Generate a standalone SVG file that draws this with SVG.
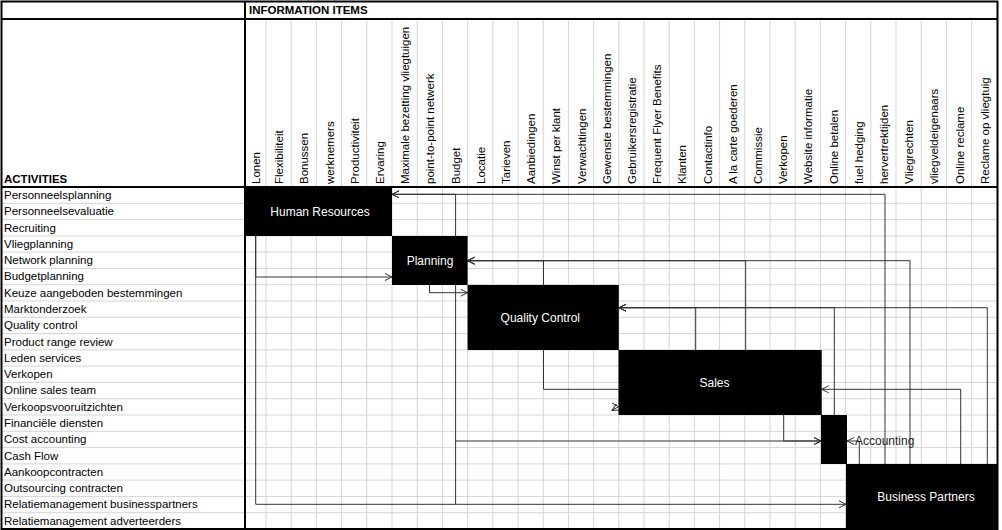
<svg xmlns="http://www.w3.org/2000/svg" width="1002" height="530" viewBox="0 0 1002 530">
<style>
.grid{stroke:#d4d4d4;stroke-width:1;fill:none}
.thick{stroke:#000;stroke-width:2;fill:none}
.lbl{font-family:"Liberation Sans",Arial,sans-serif;font-size:11.5px;fill:#000}
.hdr{font-family:"Liberation Sans",Arial,sans-serif;font-size:11.5px;font-weight:bold;fill:#000}
.node rect{fill:#000}
.node text{font-family:"Liberation Sans",Arial,sans-serif;font-size:12px;fill:#fff;text-anchor:middle}
.conn path{stroke:#333;stroke-width:1;fill:none;marker-end:url(#arr)}
.conn path.na{marker-end:none}
.chev{stroke:#333;stroke-width:1;fill:none}
</style>
<defs>
<marker id="arr" markerUnits="userSpaceOnUse" markerWidth="10" markerHeight="10" refX="8" refY="4" orient="auto">
<path d="M1,0.5 L8,4 L1,7.5" fill="none" stroke="#333" stroke-width="1"/>
</marker>
</defs>
<rect x="0" y="0" width="1002" height="530" fill="#fff"/>
<g id="grid">
<path class="grid" d="M266,19V529M291.2,19V529M316.4,19V529M341.6,19V529M366.8,19V529M392,19V529M417.2,19V529M442.4,19V529M467.6,19V529M492.8,19V529M518,19V529M543.2,19V529M568.4,19V529M593.6,19V529M618.8,19V529M644,19V529M669.2,19V529M694.4,19V529M719.6,19V529M744.8,19V529M770,19V529M795.2,19V529M820.4,19V529M845.6,19V529M870.8,19V529M896,19V529M921.2,19V529M946.4,19V529M971.6,19V529"/>
<path class="grid" d="M2,203.3H997M2,219.6H997M2,235.9H997M2,252.1H997M2,268.4H997M2,284.7H997M2,301H997M2,317.3H997M2,333.6H997M2,349.9H997M2,366.1H997M2,382.4H997M2,398.7H997M2,415H997M2,431.3H997M2,447.6H997M2,463.9H997M2,480.1H997M2,496.4H997M2,512.7H997"/>
</g>
<g id="headers">
<text class="hdr" x="249" y="14">INFORMATION ITEMS</text>
<text class="hdr" x="4" y="183">ACTIVITIES</text>
</g>
<g id="column-labels" class="lbl">
<text transform="translate(260,184) rotate(-90)">Lonen</text>
<text transform="translate(283.1,184) rotate(-90)">Flexibiliteit</text>
<text transform="translate(308.3,184) rotate(-90)">Bonussen</text>
<text transform="translate(333.5,184) rotate(-90)">werknemers</text>
<text transform="translate(358.7,184) rotate(-90)">Productiviteit</text>
<text transform="translate(383.9,184) rotate(-90)">Ervaring</text>
<text transform="translate(409.1,184) rotate(-90)">Maximale bezetting vliegtuigen</text>
<text transform="translate(434.3,184) rotate(-90)">point-to-point netwerk</text>
<text transform="translate(459.5,184) rotate(-90)">Budget</text>
<text transform="translate(484.7,184) rotate(-90)">Locatie</text>
<text transform="translate(509.9,184) rotate(-90)">Tarieven</text>
<text transform="translate(535.1,184) rotate(-90)">Aanbiedingen</text>
<text transform="translate(560.3,184) rotate(-90)">Winst per klant</text>
<text transform="translate(585.5,184) rotate(-90)">Verwachtingen</text>
<text transform="translate(610.7,184) rotate(-90)">Gewenste bestemmingen</text>
<text transform="translate(635.9,184) rotate(-90)">Gebruikersregistratie</text>
<text transform="translate(661.1,184) rotate(-90)">Frequent Flyer Benefits</text>
<text transform="translate(686.3,184) rotate(-90)">Klanten</text>
<text transform="translate(711.5,184) rotate(-90)">Contactinfo</text>
<text transform="translate(736.7,184) rotate(-90)">A la carte goederen</text>
<text transform="translate(761.9,184) rotate(-90)">Commissie</text>
<text transform="translate(787.1,184) rotate(-90)">Verkopen</text>
<text transform="translate(812.3,184) rotate(-90)">Website informatie</text>
<text transform="translate(837.5,184) rotate(-90)">Online betalen</text>
<text transform="translate(862.7,184) rotate(-90)">fuel hedging</text>
<text transform="translate(887.9,184) rotate(-90)">hervertrektijden</text>
<text transform="translate(913.1,184) rotate(-90)">Vliegrechten</text>
<text transform="translate(938.3,184) rotate(-90)">vliegveldeigenaars</text>
<text transform="translate(963.5,184) rotate(-90)">Online reclame</text>
<text transform="translate(988.7,184) rotate(-90)">Reclame op vliegtuig</text>
</g>
<g id="row-labels" class="lbl">
<text x="4" y="199">Personneelsplanning</text>
<text x="4" y="215.3">Personneelsevaluatie</text>
<text x="4" y="231.6">Recruiting</text>
<text x="4" y="247.9">Vliegplanning</text>
<text x="4" y="264.1">Network planning</text>
<text x="4" y="280.4">Budgetplanning</text>
<text x="4" y="296.7">Keuze aangeboden bestemmingen</text>
<text x="4" y="313">Marktonderzoek</text>
<text x="4" y="329.3">Quality control</text>
<text x="4" y="345.6">Product range review</text>
<text x="4" y="361.9">Leden services</text>
<text x="4" y="378.1">Verkopen</text>
<text x="4" y="394.4">Online sales team</text>
<text x="4" y="410.7">Verkoopsvooruitzichten</text>
<text x="4" y="427">Financiële diensten</text>
<text x="4" y="443.3">Cost accounting</text>
<text x="4" y="459.6">Cash Flow</text>
<text x="4" y="475.9">Aankoopcontracten</text>
<text x="4" y="492.1">Outsourcing contracten</text>
<text x="4" y="508.4">Relatiemanagement businesspartners</text>
<text x="4" y="524.7">Relatiemanagement adverteerders</text>
</g>
<g id="connectors" class="conn">
<path d="M885,464V194.3H392"/>
<path d="M455.6,236V194.3H392"/>
<path d="M255.7,236V277H392"/>
<path d="M255.7,236V504.3H846"/>
<path d="M429.5,285V292.7H467.6"/>
<path d="M455.6,285V441H821"/>
<path class="na" d="M455.6,441V504.3"/>
<path d="M543.5,285V260.7H467.6"/>
<path d="M745.7,350V260.7H467.6"/>
<path d="M910,464V260.7H467.6"/>
<path class="na" d="M543.5,350V389.3H618.5"/>
<path d="M695.7,350V307.7H619"/>
<path d="M834.3,415V307.7H619"/>
<path d="M987.3,464V307.7H619"/>
<path d="M960.7,464V389.3H821.7"/>
<path d="M783.7,415V441H821"/>
<path d="M859.3,464V441H847"/>
<path class="chev" d="M612,403 L618.5,406.7 L612,410.4"/>
</g>
<g id="node-hr" class="node">
<rect x="245" y="187" width="147" height="49"/>
<text x="320" y="215.5">Human Resources</text>
</g>
<g id="node-planning" class="node">
<rect x="392" y="236" width="75.6" height="49"/>
<text x="430" y="264.5">Planning</text>
</g>
<g id="node-qc" class="node">
<rect x="467.6" y="285" width="151.2" height="65"/>
<text x="540.3" y="322">Quality Control</text>
</g>
<g id="node-sales" class="node">
<rect x="618.5" y="350" width="203.2" height="65"/>
<text x="714.5" y="386.5">Sales</text>
</g>
<g id="node-accounting" class="node">
<rect x="821" y="415" width="26" height="49"/>
<text x="855" y="444.5" style="text-anchor:start;fill:#222">Accounting</text>
</g>
<g id="node-bp" class="node">
<rect x="846" y="464" width="151" height="65"/>
<text x="926" y="500.5">Business Partners</text>
</g>
<g id="frame">
<rect class="thick" x="1.5" y="1.5" width="996" height="527.5"/>
<path class="thick" d="M2,19H997M2,187H997M245,2V529"/>
</g>
</svg>
